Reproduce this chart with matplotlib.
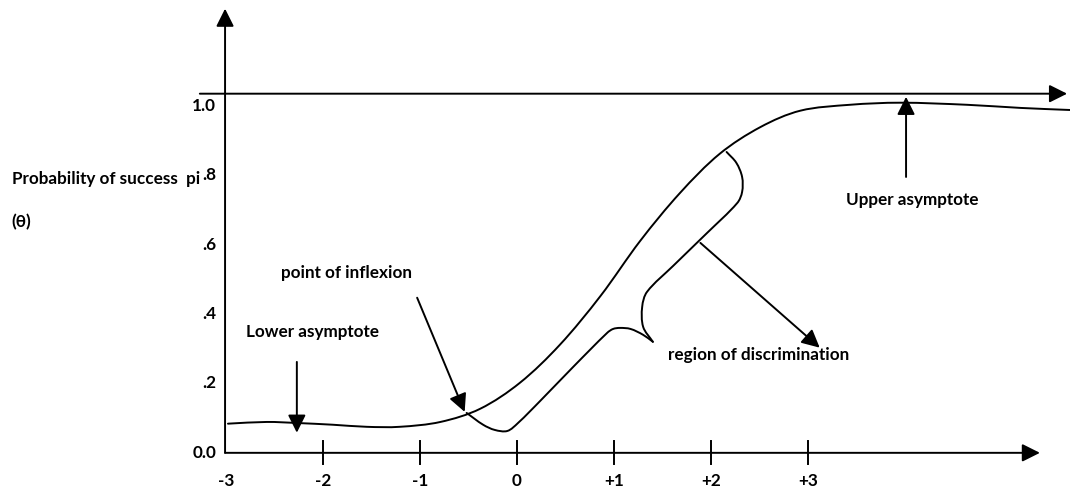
import numpy as np
import matplotlib
matplotlib.use('Agg')
import matplotlib.pyplot as plt
from matplotlib.path import Path
from matplotlib.patches import PathPatch

# item characteristic curve as sketched (ability theta, probability of success)
theta = [-2.98, -2.58, -2.27, -1.90, -1.55, -1.21, -0.79, -0.38, 0.03, 0.44, 0.86,
         1.27, 1.68, 2.09, 2.51, 2.92, 3.43, 3.95, 4.64, 5.19, 5.70]
prob = [0.084, 0.089, 0.086, 0.081, 0.075, 0.075, 0.089, 0.127, 0.202, 0.311, 0.452,
        0.611, 0.749, 0.862, 0.939, 0.986, 1.003, 1.009, 1.003, 0.994, 0.988]

# curly brace marking the region of discrimination (two halves meeting at the cusp)
brace_low_theta = [-0.52, -0.35, -0.23, -0.10, 0.01, 0.24, 0.58, 0.93, 0.99, 1.06, 1.17, 1.30, 1.40]
brace_low_prob = [0.115, 0.081, 0.066, 0.063, 0.086, 0.150, 0.248, 0.346, 0.357, 0.360, 0.357, 0.340, 0.320]
brace_up_theta = [1.40, 1.30, 1.29, 1.34, 1.61, 1.96, 2.27, 2.32, 2.32, 2.26, 2.16]
brace_up_prob = [0.320, 0.363, 0.421, 0.464, 0.539, 0.634, 0.720, 0.752, 0.795, 0.836, 0.867]

x_tick_vals = [-2, -1, 0, 1, 2, 3]
x_label_vals = [-3, -2, -1, 0, 1, 2, 3]
x_labels = ['-3', '-2', '-1', '0', '+1', '+2', '+3']
y_vals = [0.0, 0.2, 0.4, 0.6, 0.8, 1.0]
y_labels = ['0.0', '.2', '.4', '.6', '.8', '1.0']

plt.rcParams['font.family'] = ['Lato', 'DejaVu Sans']
plt.rcParams['font.weight'] = 'bold'
FS = 12.3
LW = 1.4

XLIM = (-5.33, 5.70)
YLIM = (-0.11, 1.305)
W, H = 10.70, 4.91


def smooth_path(xs, ys):
    """Chord-length Catmull-Rom through the points, as cubic beziers for matplotlib."""
    # work in pixel-like units so the tangents follow what is seen
    scale = np.array([W * 100 / (XLIM[1] - XLIM[0]), H * 100 / (YLIM[1] - YLIM[0])])
    q = np.column_stack([xs, ys]).astype(float) * scale
    n = len(q)
    d = np.linalg.norm(np.diff(q, axis=0), axis=1)
    tang = np.zeros_like(q)
    tang[0] = (q[1] - q[0]) / d[0]
    tang[-1] = (q[-1] - q[-2]) / d[-1]
    for i in range(1, n - 1):
        tang[i] = (q[i + 1] - q[i - 1]) / (d[i - 1] + d[i])
    verts = [q[0]]
    codes = [Path.MOVETO]
    for i in range(n - 1):
        verts += [q[i] + tang[i] * d[i] / 3, q[i + 1] - tang[i + 1] * d[i] / 3, q[i + 1]]
        codes += [Path.CURVE4] * 3
    return Path(np.array(verts) / scale, codes)


def arrow(ax, start, tip):
    ax.annotate('', xy=tip, xytext=start,
                arrowprops=dict(arrowstyle='-|>,head_length=0.9,head_width=0.45',
                                mutation_scale=12, lw=LW, color='k',
                                shrinkA=0, shrinkB=0))


fig = plt.figure(figsize=(W, H), dpi=100)
ax = fig.add_axes([0, 0, 1, 1])
ax.set_xlim(*XLIM)
ax.set_ylim(*YLIM)
ax.axis('off')

# axes drawn by hand, with arrow heads
arrow(ax, (-3.01, 0), (5.39, 0))
arrow(ax, (-3.01, 0), (-3.01, 1.28))
arrow(ax, (-3.27, 1.035), (5.67, 1.035))

for t in x_tick_vals:
    ax.plot([t, t], [-0.032, 0.035], color='k', lw=LW)
for t, lab in zip(x_label_vals, x_labels):
    ax.text(t, -0.08, lab, ha='center', va='center', fontsize=FS)
for v, lab in zip(y_vals, y_labels):
    ax.text(-3.10, v, lab, ha='right', va='center', fontsize=FS)

ax.text(-5.21, 0.79, 'Probability of success  pi', ha='left', va='center', fontsize=FS)
ax.text(-5.21, 0.666, '(θ)', ha='left', va='center', fontsize=FS)

# the curve and the brace
for xs, ys in [(theta, prob), (brace_low_theta, brace_low_prob), (brace_up_theta, brace_up_prob)]:
    ax.add_patch(PathPatch(smooth_path(xs, ys), fill=False, lw=LW, edgecolor='k', capstyle='round'))

# annotations
arrow(ax, (-2.27, 0.262), (-2.27, 0.058))
ax.text(-2.11, 0.349, 'Lower asymptote', ha='center', va='center', fontsize=FS)

arrow(ax, (-1.03, 0.447), (-0.54, 0.118))
ax.text(-1.76, 0.519, 'point of inflexion', ha='center', va='center', fontsize=FS)

arrow(ax, (1.89, 0.605), (3.12, 0.303))
ax.text(2.49, 0.282, 'region of discrimination', ha='center', va='center', fontsize=FS)

arrow(ax, (4.01, 0.795), (4.01, 1.026))
ax.text(4.07, 0.729, 'Upper asymptote', ha='center', va='center', fontsize=FS)

fig.savefig('out.png', dpi=100)
